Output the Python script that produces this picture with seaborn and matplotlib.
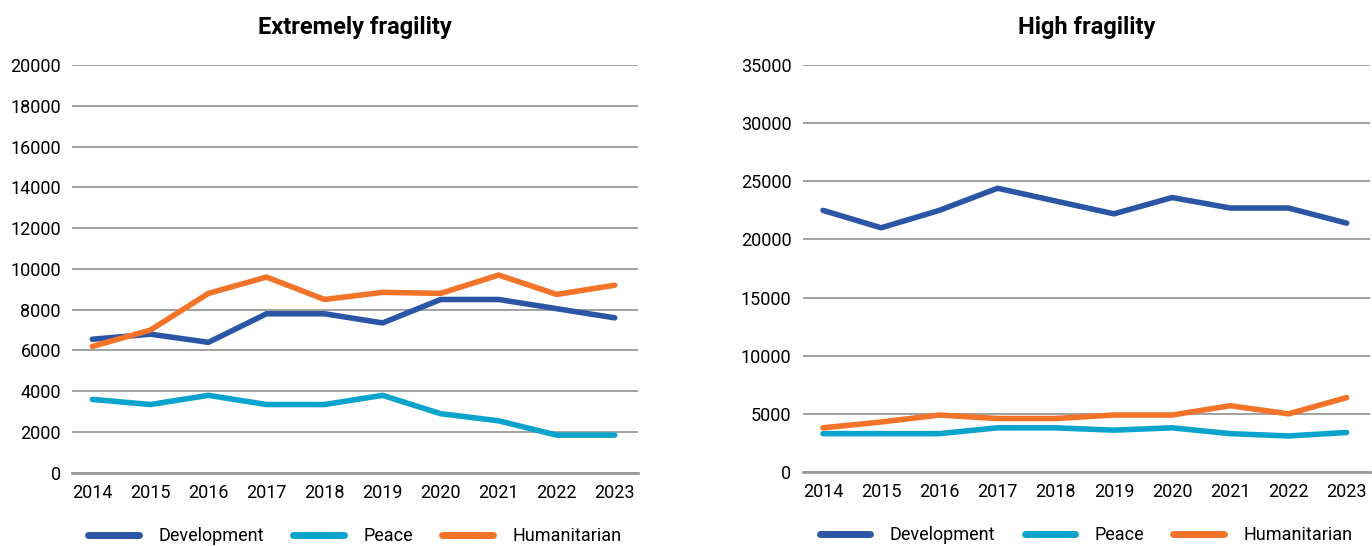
import pandas as pd
import numpy as np
import matplotlib
matplotlib.use('Agg')
import matplotlib.pyplot as plt
import seaborn as sns

# data
years = ['2014', '2015', '2016', '2017', '2018', '2019', '2020', '2021', '2022', '2023']
series = ['Development', 'Peace', 'Humanitarian']

ext_dev = [6550, 6800, 6400, 7800, 7800, 7350, 8500, 8500, 8050, 7600]
ext_peace = [3600, 3350, 3800, 3350, 3350, 3800, 2900, 2550, 1850, 1850]
ext_hum = [6200, 7000, 8800, 9600, 8500, 8850, 8800, 9700, 8750, 9200]

high_dev = [22500, 21000, 22500, 24400, 23300, 22200, 23600, 22700, 22700, 21400]
high_peace = [3300, 3300, 3300, 3800, 3800, 3600, 3800, 3300, 3100, 3400]
high_hum = [3800, 4300, 4900, 4600, 4600, 4900, 4900, 5700, 5000, 6400]

colors = ['#2B56A6', '#0AA3CB', '#F37329']

sns.set_style('white')
plt.rcParams['font.family'] = ['Roboto', 'DejaVu Sans']
plt.rcParams['text.color'] = 'black'
plt.rcParams['xtick.color'] = 'black'
plt.rcParams['ytick.color'] = 'black'


def long_df(dev, peace, hum):
    df = pd.DataFrame({'x': np.arange(len(years)), 'Development': dev,
                       'Peace': peace, 'Humanitarian': hum})
    return df.melt(id_vars='x', var_name='series', value_name='value')


fig = plt.figure(figsize=(13.72, 5.46), dpi=100)
ax1 = fig.add_axes([0.0525, 0.134, 0.4125, 0.747])
ax2 = fig.add_axes([0.585, 0.1355, 0.4135, 0.7455])

panels = [
    (ax1, long_df(ext_dev, ext_peace, ext_hum), 'Extremely fragility', 20000, 2000),
    (ax2, long_df(high_dev, high_peace, high_hum), 'High fragility', 35000, 5000),
]

for ax, df, title, ymax, step in panels:
    sns.lineplot(data=df, x='x', y='value', hue='series', hue_order=series,
                 palette=colors, linewidth=4, ax=ax, legend=True)
    ax.set_ylim(0, ymax)
    ax.set_yticks(np.arange(0, ymax + 1, step))
    ax.set_xlim(-0.35, 9.4)
    ax.set_xticks(np.arange(len(years)))
    ax.set_xticklabels(years)
    ax.grid(axis='y', color='#9a9a9a', linewidth=1.3)
    ax.set_axisbelow(True)
    for s in ['left', 'right', 'top']:
        ax.spines[s].set_visible(False)
    ax.spines['bottom'].set_color('#9a9a9a')
    ax.spines['bottom'].set_linewidth(2)
    ax.tick_params(axis='both', length=0, labelsize=13, pad=8, labelcolor='black')
    ax.set_xlabel('')
    ax.set_ylabel('')
    ax.set_title(title, fontsize=17, fontweight='bold', pad=22, color='black')
    leg = ax.legend(loc='center', bbox_to_anchor=(0.5, -0.155), ncol=3,
                    frameon=False, fontsize=13, handlelength=2.8,
                    handletextpad=1.1, columnspacing=1.6, borderpad=0.1)
    for t in leg.get_texts():
        t.set_color('black')
    for h in leg.get_lines():
        h.set_linewidth(5)
        h.set_solid_capstyle('round')

fig.savefig('out.png', dpi=100)
